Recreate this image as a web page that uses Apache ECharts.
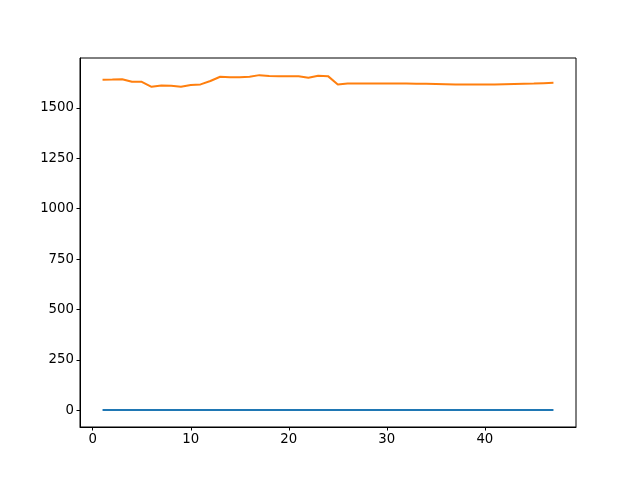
<!DOCTYPE html>
<html>
<head>
<meta charset="utf-8">
<script src="https://cdn.jsdelivr.net/npm/echarts@6/dist/echarts.min.js"></script>
<style>html,body{margin:0;padding:0;background:#fff}#c{width:640px;height:480px}</style>
</head>
<body>
<div id="c"></div>
<script>
const xValues = [1,2,3,4,5,6,7,8,9,10,11,12,13,14,15,16,17,18,19,20,21,22,23,24,25,26,27,28,29,30,31,32,33,34,35,36,37,38,39,40,41,42,43,44,45,46,47];
const seriesA = [1,1,1,1,1,1,1,1,1,1,1,1,1,1,1,1,1,1,1,1,1,1,1,1,1,1,1,1,1,1,1,1,1,1,1,1,1,1,1,1,1,1,1,1,1,1,1];
const seriesB = [1640,1641,1643,1630,1630,1605,1612,1610,1605,1614,1617,1634,1655,1653,1653,1655,1663,1659,1658,1657,1657,1650,1660,1658,1617,1621,1621,1621,1621,1621,1621,1621,1620,1620,1619,1618,1617,1617,1617,1617,1617,1618,1619,1620,1621,1623,1625];
const xTicks = [0,10,20,30,40];
const yTicks = [0,250,500,750,1000,1250,1500];

const chart = echarts.init(document.getElementById('c'), null, {renderer:'canvas'});
const font = {fontFamily:'DejaVu Sans', fontSize:13.3, color:'#000', formatter:v=>String(v)};
chart.setOption({
  animation:false,
  grid:{left:80,right:64,top:58,bottom:53,show:true,borderColor:'#000',borderWidth:1,backgroundColor:'transparent'},
  xAxis:{type:'value',min:-1.3,max:49.3,
    axisLine:{show:true,onZero:false,lineStyle:{color:'#000',width:1}},
    axisTick:{show:true,length:3.5,lineStyle:{color:'#000'},customValues:xTicks},
    axisLabel:Object.assign({customValues:xTicks,margin:6},font),
    splitLine:{show:false}},
  yAxis:{type:'value',min:-83,max:1748,
    axisLine:{show:true,onZero:false,lineStyle:{color:'#000',width:1}},
    axisTick:{show:true,length:3.5,lineStyle:{color:'#000'},customValues:yTicks},
    axisLabel:Object.assign({customValues:yTicks,margin:6},font),
    splitLine:{show:false}},
  series:[
    {type:'line',data:xValues.map((x,i)=>[x,seriesA[i]]),showSymbol:false,lineStyle:{color:'#1f77b4',width:2},itemStyle:{color:'#1f77b4'}},
    {type:'line',data:xValues.map((x,i)=>[x,seriesB[i]]),showSymbol:false,lineStyle:{color:'#ff7f0e',width:2},itemStyle:{color:'#ff7f0e'}}
  ]
});
</script>
</body>
</html>
